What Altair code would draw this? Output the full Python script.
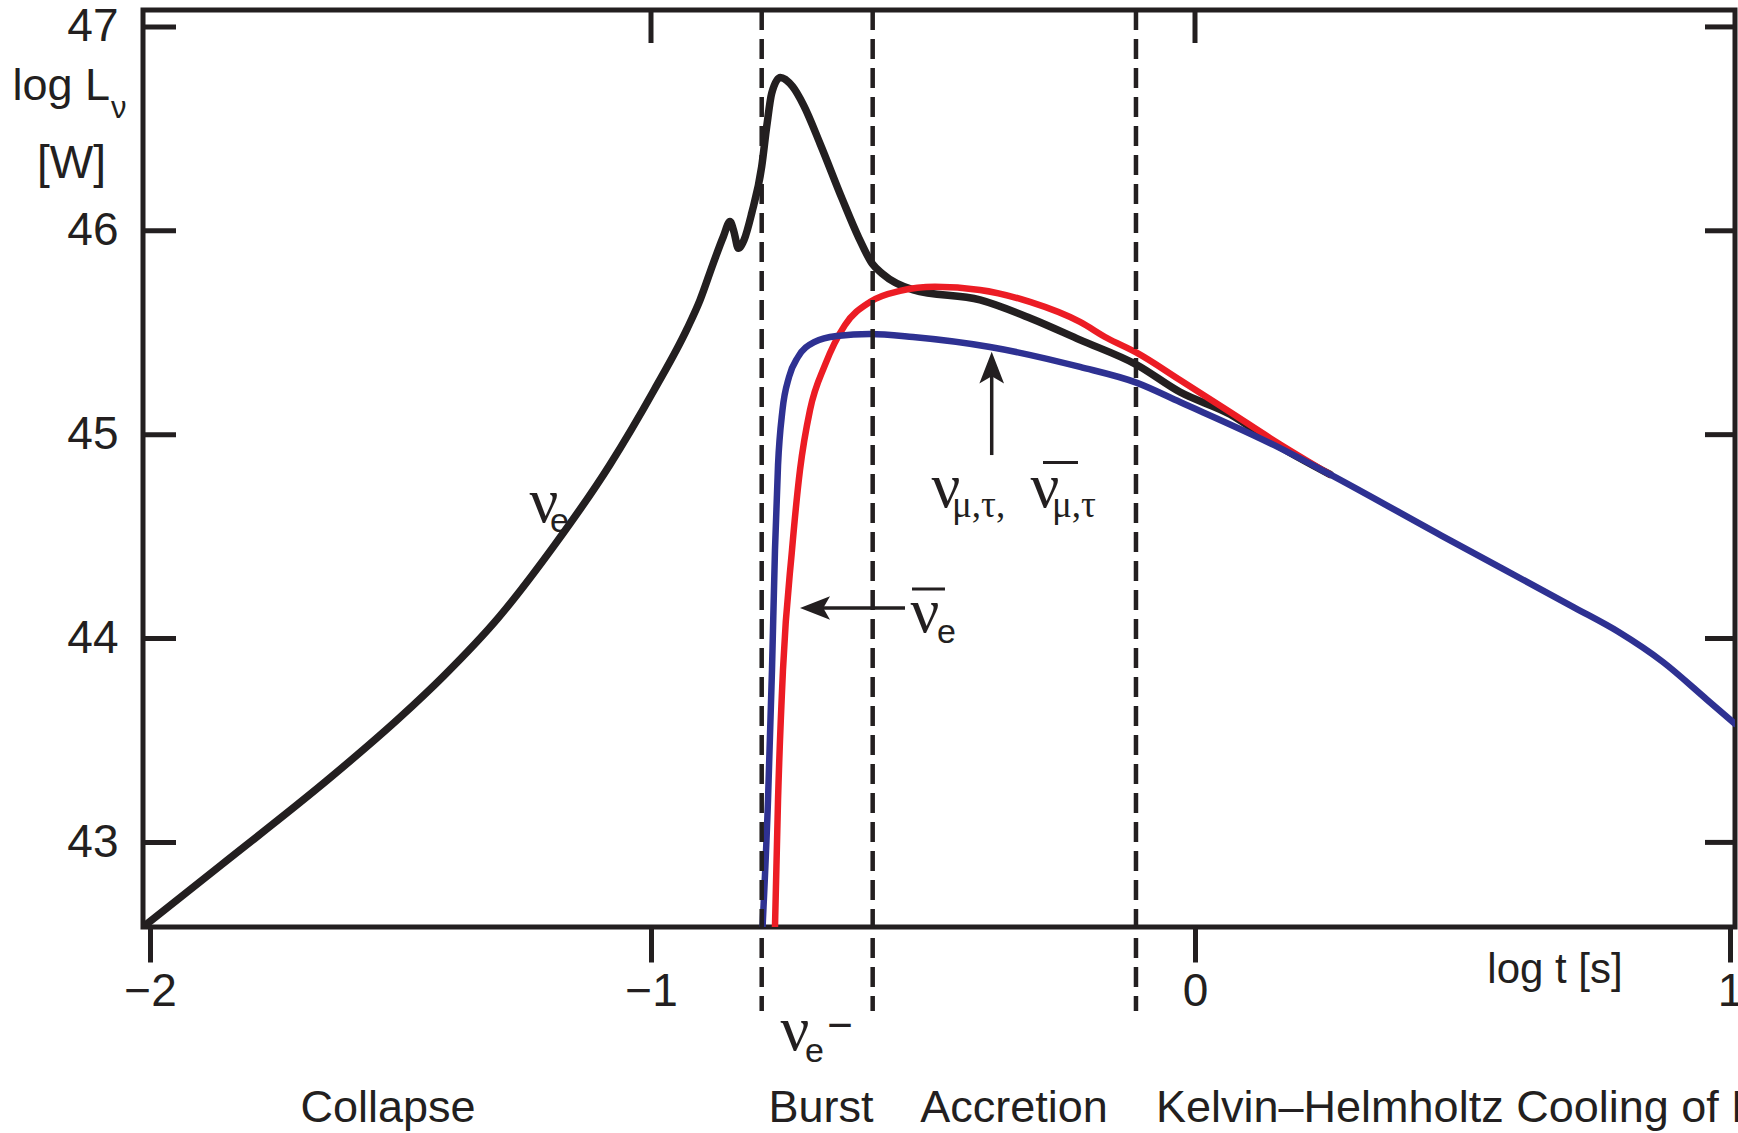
import altair as alt
import pandas as pd

# ---------------- values ----------------
# nu_e  (black): log t [s], log L [W]
nue_t = [-2.014, -1.857, -1.636, -1.503, -1.414, -1.304, -1.193, -1.083, -0.9945, -0.9335,
         -0.9099, -0.8855, -0.8671, -0.8548, -0.8474, -0.8395, -0.8290, -0.8149, -0.7965,
         -0.7873, -0.7781, -0.7623, -0.7399, -0.7195, -0.6890, -0.6482, -0.6176, -0.5932,
         -0.5750, -0.5178, -0.3952, -0.3015, -0.2114, -0.1066, -0.0276, 0.0654, 0.1495, 0.2523]
nue_L = [42.585, 42.891, 43.326, 43.609, 43.816, 44.104, 44.457, 44.849, 45.218, 45.520,
         45.660, 45.841, 45.971, 46.045, 45.994, 45.914, 45.955, 46.086, 46.315,
         46.511, 46.675, 46.752, 46.708, 46.616, 46.426, 46.154, 45.963, 45.838,
         45.790, 45.710, 45.661, 45.570, 45.465, 45.342, 45.209, 45.100, 44.955, 44.805]

# anti nu_e (red)
nuebar_t = [-0.7721, -0.7665, -0.7574, -0.7408, -0.7261, -0.7077, -0.6801, -0.6434, -0.5974,
            -0.5423, -0.4779, -0.3952, -0.3033, -0.2114, -0.1618, -0.1066, -0.0276, 0.0654,
            0.1495, 0.2523]
nuebar_L = [42.585, 43.208, 43.846, 44.434, 44.827, 45.121, 45.342, 45.538, 45.651,
            45.705, 45.725, 45.710, 45.651, 45.553, 45.474, 45.401, 45.268, 45.111,
            44.968, 44.805]

# nu_mu,tau and anti (blue)
nux_t = [-0.7949, -0.7849, -0.7776, -0.7721, -0.7665, -0.7583, -0.7463, -0.7298, -0.6991,
         -0.6585, -0.5974, -0.5184, -0.3768, -0.2114, -0.1066, -0.0276, 0.1490, 0.2523,
         0.4596, 0.7082, 0.7912, 0.8740, 0.9570, 1.0093]
nux_L = [42.585, 43.208, 43.846, 44.434, 44.851, 45.121, 45.283, 45.381, 45.455,
         45.484, 45.494, 45.479, 45.430, 45.332, 45.254, 45.160, 44.947, 44.805,
         44.506, 44.153, 44.033, 43.886, 43.700, 43.582]

x_ticks = [-2, -1, 0, 1]
y_ticks = [43, 44, 45, 46, 47]
top_ticks = [-1, 0]
phase_bounds = [-0.7965, -0.5925, -0.1085]

phase_names = ["Collapse", "Burst", "Accretion"]
phase_x = [-1.525, -0.6875, -0.3327]
kh_name = ["Kelvin\u2013Helmholtz Cooling of Neutron Star"]
kh_x = [-0.0717]
phase_y = 41.630

# ---------------- style ----------------
INK = "#231f20"
RED = "#ec1c24"
BLUE = "#2e3192"
SANS = "Liberation Sans, Arial, sans-serif"
SERIF = "Liberation Serif, Times New Roman, serif"

W, H = 1592, 917
XS = alt.Scale(domain=[-2.014, -1, 0, 1.0093], range=[0, 508, 1052, W], nice=False, zero=False)
YS = alt.Scale(domain=[42.585, 47.083], nice=False, zero=False)

AX = alt.Axis(values=x_ticks, format="d", title=None, grid=False, domain=False,
              tickSize=35, tickWidth=5, tickColor=INK, labelFont=SANS, labelFontSize=46,
              labelColor=INK, labelPadding=7, labelFlush=False)
AY = alt.Axis(values=y_ticks, format="d", title=None, grid=False, domain=False,
              ticks=False, labelFont=SANS, labelFontSize=46, labelColor=INK,
              labelPadding=25, labelFlush=False)


def X(f):
    return alt.X(f, scale=XS, axis=AX)


def Y(f):
    return alt.Y(f, scale=YS, axis=AY)


def curve(t, L, color, width):
    df = pd.DataFrame({"t": t, "L": L})
    return alt.Chart(df).mark_line(color=color, strokeWidth=width, interpolate="monotone",
                                   clip=True, strokeCap="round", strokeJoin="round").encode(
        x=X("t:Q"), y=Y("L:Q"))


def texts(xs, ys, ss, font, size, align, baseline="alphabetic"):
    df = pd.DataFrame({"x": xs, "y": ys, "s": ss})
    return alt.Chart(df).mark_text(font=font, fontSize=size, align=align, baseline=baseline,
                                   color=INK, clip=False).encode(
        x=X("x:Q"), y=Y("y:Q"), text="s:N")


black = curve(nue_t, nue_L, INK, 7.5)
red = curve(nuebar_t, nuebar_L, RED, 6.5)
blue = curve(nux_t, nux_L, BLUE, 6.5)

# inward ticks (left, right, top)
yt = pd.DataFrame({"v": y_ticks})
left_ticks = alt.Chart(yt).mark_rule(color=INK, strokeWidth=5).encode(
    y=Y("v:Q"), x=alt.value(0), x2=alt.value(33))
right_ticks = alt.Chart(yt).mark_rule(color=INK, strokeWidth=5).encode(
    y=Y("v:Q"), x=alt.value(W - 30), x2=alt.value(W))
top_t = alt.Chart(pd.DataFrame({"v": top_ticks})).mark_rule(color=INK, strokeWidth=5).encode(
    x=X("v:Q"), y=alt.value(0), y2=alt.value(33))

# dashed phase boundaries, running below the axis
dashes = alt.Chart(pd.DataFrame({"t": phase_bounds})).mark_rule(
    color=INK, strokeWidth=4.5, strokeDash=[20, 9], clip=False
).encode(
    x=X("t:Q"),
    y=alt.YDatum(47.083, scale=YS, axis=AY),
    y2=alt.Y2Datum(42.173),
)

# arrows
arrow_lines = alt.Chart(pd.DataFrame({
    "x": [-0.6900, -0.3737], "x2": [-0.5331, -0.3737],
    "y": [44.150, 44.900], "y2": [44.150, 45.300]})).mark_rule(color=INK, strokeWidth=3.5).encode(
    x=X("x:Q"), x2="x2:Q", y=Y("y:Q"), y2="y2:Q")
head_left = alt.Chart(pd.DataFrame({"x": [-0.6985], "y": [44.150]})).mark_point(
    shape="M -1 0 L 1 -0.78 L 0.55 0 L 1 0.78 Z", filled=True, size=900, color=INK, opacity=1
).encode(x=X("x:Q"), y=Y("y:Q"))
head_up = alt.Chart(pd.DataFrame({"x": [-0.3737], "y": [45.329]})).mark_point(
    shape="M 0 -1 L 0.78 1 L 0 0.55 L -0.78 1 Z", filled=True, size=1000, color=INK, opacity=1
).encode(x=X("x:Q"), y=Y("y:Q"))

# overlines for anti-neutrinos
bars = alt.Chart(pd.DataFrame({"x": [-0.5202, -0.2794], "x2": [-0.4596, -0.2151],
                               "y": [44.243, 44.863]})).mark_rule(color=INK, strokeWidth=3).encode(
    x=X("x:Q"), x2="x2:Q", y=Y("y:Q"))

# Greek labels
nu_big = texts([-1.2136, -0.4963, -0.4577, -0.2757, -0.7353],
               [44.572, 44.032, 44.645, 44.645, 41.982],
               ["\u03bd"] * 5, SERIF, 64, "center")
sub_e = texts([-1.2016, -0.4743, -0.7169], [44.523, 43.978, 41.923], ["e", "e", "e"],
              SANS, 34, "left")
sub_mt = texts([-0.4467, -0.2629], [44.596, 44.596], ["\u03bc,\u03c4,", "\u03bc,\u03c4"],
               SERIF, 37, "left")
dash_txt = texts([-0.6526], [42.095], ["\u2212"], SANS, 44, "center", "middle")

# axis titles
ytitle1 = texts([-2.0798], [46.642], ["log L"], SANS, 45, "right")
ytitle_sub = texts([-2.0778], [46.554], ["\u03bd"], SANS, 31, "left")
ytitle2 = texts([-2.1567], [46.259], ["[W]"], SANS, 46, "center")
xtitle = texts([0.6729], [42.310], ["log t [s]"], SANS, 42, "center")

# phase names
phases = texts(phase_x, [phase_y] * 3, phase_names, SANS, 45, "center")
kh = texts(kh_x, [phase_y], kh_name, SANS, 45, "left")

chart = alt.layer(
    black, red, blue, dashes, left_ticks, right_ticks, top_t,
    arrow_lines, head_left, head_up, bars, nu_big, sub_e, sub_mt, dash_txt,
    ytitle1, ytitle_sub, ytitle2, xtitle, phases, kh,
).properties(
    width=W, height=H,
    autosize=alt.AutoSizeParams(type="none"),
    padding={"left": 143, "top": 10, "right": 3, "bottom": 206},
    background="white",
).configure_view(stroke=INK, strokeWidth=5)

chart.save("out.html", embed_options={"renderer": "svg", "actions": False})
